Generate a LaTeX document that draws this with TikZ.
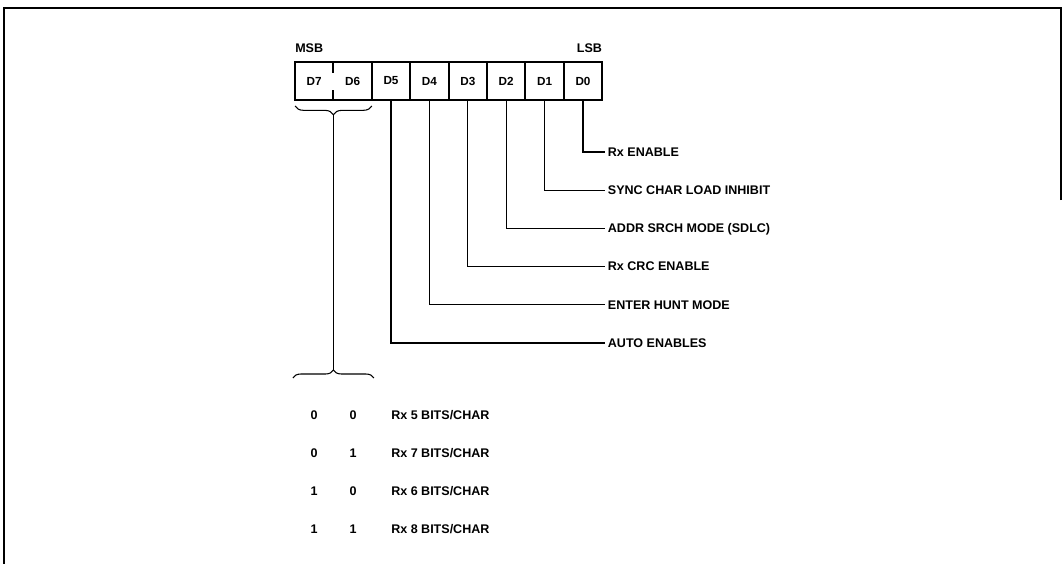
\documentclass[tikz,border=0pt]{standalone}
\usepackage{fontspec}
\setmainfont{Liberation Sans}
\usepackage{tikz}
\usetikzlibrary{positioning, calc, decorations.pathreplacing}
\tikzset{
  cellbox/.style={draw, line width=1.4pt, minimum width=28.8pt,
        minimum height=28.5pt, inner sep=0pt, outer sep=0pt,
        font=\fontsize{8.8}{10}\selectfont\bfseries},
  fieldlbl/.style={anchor=west, inner sep=2pt, text height=6.5pt,
        text depth=0pt, font=\fontsize{9.4}{11}\selectfont\bfseries},
  tag/.style={inner sep=0pt, text height=6.5pt, text depth=0pt,
        font=\fontsize{9.4}{11}\selectfont\bfseries},
  wire/.style={line width=0.8pt},
}

\begin{document}
\begin{tikzpicture}[x=0.75pt, y=-0.75pt]
        \useasboundingbox (0,0) rectangle (1063,564);
        \draw[line width=1.5pt] (1061,200) -- (1061,8) -- (4,8) -- (4,564);
        % register cells
        \node[cellbox, draw=none] (d7) at (314.2,81) {D7};
        \node[cellbox, draw=none] (d6) at (352.6,81) {D6};
        \draw[line width=1.4pt] (d7.north west) rectangle (d6.south east);
        \draw[line width=1.4pt] (d7.north east) -- ++(0,11)
          (d7.south east) -- ++(0,-10);
        \foreach \b in {5,...,0}
          \node[cellbox] (d\b) at ({295+38.4*(7-\b)+19.2},81) {D\b};
        \node[tag, anchor=south west] (msb) at ([yshift=7pt]d7.north west) {MSB};
        \node[tag, anchor=south east] (lsb) at ([yshift=7pt]d0.north east) {LSB};
        % bit functions
        \foreach \b/\txt in {0/Rx ENABLE, 1/SYNC CHAR LOAD INHIBIT,
            2/ADDR SRCH MODE (SDLC), 3/Rx CRC ENABLE,
            4/ENTER HUNT MODE, 5/AUTO ENABLES} {
          \node[fieldlbl] (f\b) at (605,{152+38.2*\b}) {\txt};
          \draw[wire] (d\b.south) |- (f\b.west);
        }
        % D7 D6 field
        \draw[wire, decorate, decoration={brace, amplitude=6.5pt}]
          ([yshift=-4.5pt]d6.south east) -- ([yshift=-4.5pt]d7.south west);
        \coordinate (bt) at ($(d7.south east)+(0,15)$);
        \coordinate (bb) at (bt |- 0,370);
        \draw[wire] (bt) -- (bb);
        \draw[wire, decorate, decoration={brace, amplitude=6pt}]
          ($(bb)+(-40.5,8)$) -- ($(bb)+(40.5,8)$);
        \foreach \r/\hi/\lo/\bits in {0/0/0/5, 1/0/1/7, 2/1/0/6, 3/1/1/8} {
          \node[tag] (h\r) at (314,{415+38*\r}) {\hi};
          \node[tag] (l\r) at (353,{415+38*\r}) {\lo};
          \node[tag, anchor=west] (m\r) at (391,{415+38*\r}) {Rx \bits\ BITS/CHAR};
        }
      \end{tikzpicture}
\end{document}
